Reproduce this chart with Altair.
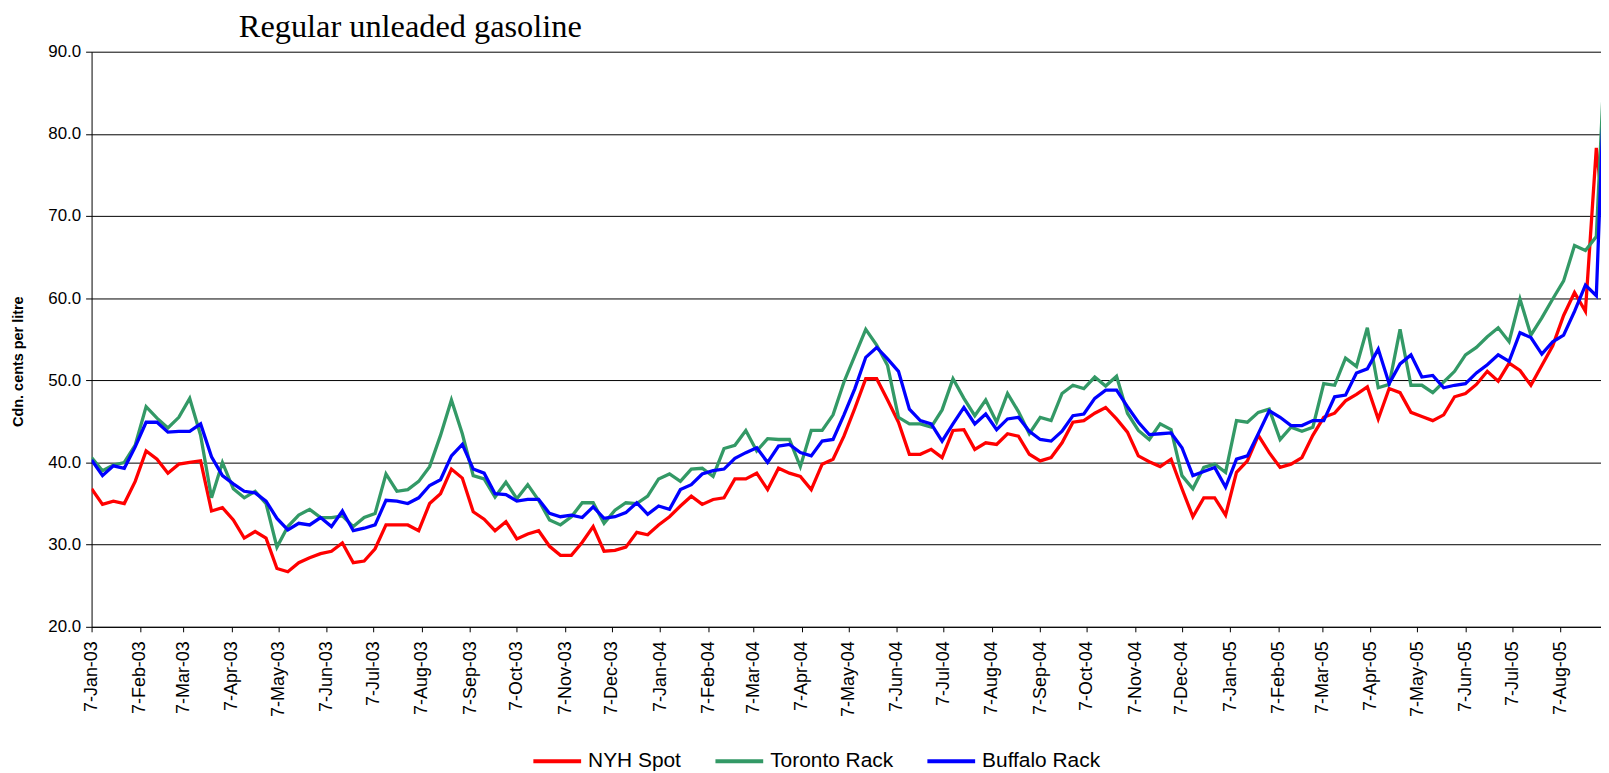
import altair as alt
import pandas as pd

# Weekly observations (Tuesdays) starting 7-Jan-2003
first_date = "2003-01-07"
n_points = 140

nyh_spot = [36.8, 34.9, 35.3, 35.0, 37.7, 41.4, 40.4, 38.7, 39.8, 40.0,
            40.2, 34.1, 34.5, 33.0, 30.8, 31.6, 30.8, 27.1, 26.7, 27.8,
            28.4, 28.9, 29.2, 30.2, 27.8, 28.0, 29.5, 32.4, 32.4, 32.4,
            31.7, 35.0, 36.2, 39.2, 38.1, 34.0, 33.1, 31.7, 32.8, 30.7,
            31.3, 31.7, 29.8, 28.7, 28.7, 30.3, 32.2, 29.2, 29.3, 29.7,
            31.5, 31.2, 32.4, 33.4, 34.7, 35.9, 34.9, 35.5, 35.7, 38.0,
            38.0, 38.7, 36.7, 39.3, 38.7, 38.3, 36.7, 39.8, 40.4, 43.2,
            46.6, 50.2, 50.2, 47.6, 44.9, 41.0, 41.0, 41.6, 40.6, 43.9,
            44.0, 41.6, 42.4, 42.2, 43.5, 43.2, 41.0, 40.2, 40.6, 42.4,
            44.9, 45.1, 46.0, 46.7, 45.3, 43.7, 40.8, 40.1, 39.5, 40.4,
            36.8, 33.4, 35.7, 35.7, 33.6, 38.8, 40.2, 43.3, 41.2, 39.4,
            39.8, 40.6, 43.3, 45.5, 46.0, 47.5, 48.3, 49.2, 45.3, 49.0,
            48.5, 46.1, 45.6, 45.1, 45.8, 48.0, 48.4, 49.5, 51.1, 49.9,
            52.1, 51.2, 49.4, 51.8, 54.2, 57.9, 60.7, 58.4, 78.3, 66.0]

toronto_rack = [40.6, 39.0, 39.7, 40.0, 42.1, 46.8, 45.4, 44.2, 45.5, 47.8,
                43.3, 35.7, 40.0, 36.8, 35.7, 36.5, 35.0, 29.7, 32.2, 33.6,
                34.3, 33.3, 33.3, 33.5, 32.2, 33.3, 33.8, 38.6, 36.5, 36.7,
                37.7, 39.5, 43.3, 47.6, 43.5, 38.4, 38.0, 35.8, 37.6, 35.6,
                37.3, 35.4, 33.0, 32.4, 33.4, 35.1, 35.1, 32.6, 34.2, 35.1,
                35.0, 35.9, 38.0, 38.6, 37.7, 39.2, 39.3, 38.3, 41.7, 42.1,
                43.9, 41.4, 42.9, 42.8, 42.8, 39.5, 43.9, 43.9, 45.8, 49.8,
                53.0, 56.2, 54.3, 51.8, 45.5, 44.7, 44.7, 44.3, 46.4, 50.2,
                47.8, 45.7, 47.6, 44.9, 48.4, 46.2, 43.5, 45.5, 45.1, 48.4,
                49.4, 49.0, 50.4, 49.3, 50.5, 46.0, 43.9, 42.8, 44.7, 44.0,
                38.4, 36.8, 39.4, 39.8, 38.8, 45.1, 44.9, 46.1, 46.5, 42.8,
                44.3, 43.8, 44.3, 49.6, 49.4, 52.7, 51.7, 56.4, 49.1, 49.5,
                56.2, 49.4, 49.4, 48.5, 49.8, 51.1, 53.1, 54.0, 55.3, 56.4,
                54.7, 59.9, 55.5, 57.6, 59.9, 62.1, 66.4, 65.8, 67.5, 96.0]

buffalo_rack = [40.3, 38.4, 39.6, 39.3, 41.9, 44.9, 44.9, 43.7, 43.8, 43.8,
                44.7, 40.7, 38.4, 37.4, 36.5, 36.3, 35.3, 33.2, 31.8, 32.6,
                32.4, 33.3, 32.2, 34.1, 31.7, 32.0, 32.4, 35.4, 35.3, 35.0,
                35.7, 37.2, 37.9, 40.8, 42.2, 39.2, 38.7, 36.2, 36.1, 35.3,
                35.5, 35.5, 33.8, 33.4, 33.6, 33.3, 34.6, 33.2, 33.4, 33.9,
                35.1, 33.7, 34.7, 34.3, 36.7, 37.3, 38.6, 39.0, 39.2, 40.5,
                41.2, 41.8, 40.0, 42.0, 42.2, 41.2, 40.8, 42.6, 42.8, 45.8,
                49.0, 52.8, 54.0, 52.6, 51.1, 46.5, 45.1, 44.7, 42.6, 44.7,
                46.7, 44.7, 45.9, 44.0, 45.3, 45.5, 43.8, 42.8, 42.6, 43.8,
                45.7, 45.9, 47.8, 48.8, 48.8, 46.8, 44.9, 43.4, 43.5, 43.6,
                41.8, 38.4, 38.9, 39.4, 37.0, 40.4, 40.8, 43.5, 46.3, 45.5,
                44.5, 44.5, 45.1, 45.1, 48.0, 48.2, 50.9, 51.4, 53.8, 49.6,
                52.0, 53.1, 50.4, 50.6, 49.1, 49.4, 49.6, 50.9, 51.9, 53.1,
                52.3, 55.8, 55.2, 53.2, 54.7, 55.5, 58.4, 61.6, 60.3, 96.0]

series_names = ["NYH Spot", "Toronto Rack", "Buffalo Rack"]
series_colors = ["#FF0000", "#339966", "#0000FF"]

y_ticks = [20, 30, 40, 50, 60, 70, 80, 90]
x_tick_dates = [f"{y}-{m:02d}-07" for y in (2003, 2004, 2005) for m in range(1, 13)
                if not (y == 2005 and m > 8)]
x_domain = ["2003-01-07", "2005-09-02"]


def ms(s):
    return int(pd.Timestamp(s, tz="UTC").value // 10**6)


dates = pd.date_range(first_date, periods=n_points, freq="7D")
rows = []
for k, (name, vals) in enumerate(zip(series_names, [nyh_spot, toronto_rack, buffalo_rack])):
    for d, v in zip(dates, vals):
        rows.append({"date": d.strftime("%Y-%m-%d"), "series": name, "rank": k, "value": v})
df = pd.DataFrame(rows)

chart = alt.Chart(df).mark_line(strokeWidth=3.3, clip=True).encode(
    x=alt.X(
        "date:T",
        scale=alt.Scale(type="utc", domain=[ms(x_domain[0]), ms(x_domain[1])]),
        axis=alt.Axis(
            values=[ms(d) for d in x_tick_dates],
            labelExpr="utcFormat(datum.value, '%-d-%b-%y')",
            labelAngle=270,
            labelFont="Liberation Sans",
            labelFontSize=18,
            labelColor="black",
            labelPadding=9,
            tickColor="black",
            tickSize=5,
            domainColor="black",
            grid=False,
            title=None,
            labelOverlap=False,
        ),
    ),
    y=alt.Y(
        "value:Q",
        scale=alt.Scale(domain=[20, 90], nice=False, zero=False),
        axis=alt.Axis(
            values=y_ticks,
            format=".1f",
            labelFont="Liberation Sans",
            labelFontSize=17,
            labelColor="black",
            labelPadding=5,
            tickColor="black",
            tickSize=6,
            domainColor="black",
            gridColor="black",
            gridOpacity=1,
            gridWidth=1,
            title="Cdn. cents per litre",
            titleFont="Liberation Sans",
            titleFontSize=14.5,
            titleFontWeight="bold",
            titleColor="black",
            titleAngle=270,
            titleX=-73,
            titleY=311,
            titleAlign="center",
            titleBaseline="middle",
        ),
    ),
    color=alt.Color(
        "series:N",
        sort=series_names,
        scale=alt.Scale(domain=series_names, range=series_colors),
        legend=alt.Legend(
            orient="none",
            legendX=442,
            legendY=687,
            direction="horizontal",
            title=None,
            symbolType="stroke",
            symbolSize=2304,
            symbolStrokeWidth=4,
            labelFont="Liberation Sans",
            labelFontSize=21,
            labelColor="black",
            labelOffset=5,
            columnPadding=26,
            padding=0,
        ),
    ),
    detail="rank:O",
).properties(
    width=1517,
    height=578,
    padding={"left": 84, "top": 42, "right": 0, "bottom": 145},
    autosize=alt.AutoSizeParams(type="none"),
    title=alt.Title(
        "Regular unleaded gasoline",
        font="Liberation Serif",
        fontSize=32.5,
        fontWeight="normal",
        color="black",
        anchor="start",
        dx=229,
        dy=37,
        offset=10,
        baseline="alphabetic",
    ),
).configure_view(strokeWidth=0)

chart.save("out.html", embed_options={"renderer": "svg", "actions": False})
